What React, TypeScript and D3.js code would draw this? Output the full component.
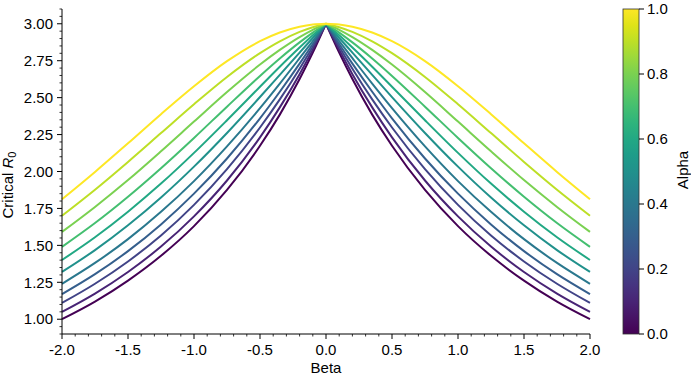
import React from 'react';
import * as d3 from 'd3';

// beta grid (denser near the peak so the alpha=0 cusp stays sharp)
const BETA = [-2, -1.75, -1.5, -1.25, -1, -0.75, -0.5, -0.35, -0.2, -0.1, 0,
  0.1, 0.2, 0.35, 0.5, 0.75, 1, 1.25, 1.5, 1.75, 2];

const ALPHAS = [0, 0.1, 0.2, 0.3, 0.4, 0.5, 0.6, 0.7, 0.8, 0.9, 1.0];

// critical R0, one array per alpha
const R0_A00 = [1.000, 1.119, 1.261, 1.429, 1.630, 1.875, 2.174, 2.385, 2.626, 2.805, 3.000, 2.805, 2.626, 2.385, 2.174, 1.875, 1.630, 1.429, 1.261, 1.119, 1.000];
const R0_A01 = [1.050, 1.174, 1.320, 1.492, 1.696, 1.939, 2.231, 2.434, 2.659, 2.824, 3.000, 2.824, 2.659, 2.434, 2.231, 1.939, 1.696, 1.492, 1.320, 1.174, 1.050];
const R0_A02 = [1.110, 1.240, 1.391, 1.567, 1.774, 2.016, 2.298, 2.488, 2.696, 2.844, 3.000, 2.844, 2.696, 2.488, 2.298, 2.016, 1.774, 1.567, 1.391, 1.240, 1.110];
const R0_A03 = [1.170, 1.305, 1.461, 1.642, 1.850, 2.088, 2.360, 2.540, 2.730, 2.863, 3.000, 2.863, 2.730, 2.540, 2.360, 2.088, 1.850, 1.642, 1.461, 1.305, 1.170];
const R0_A04 = [1.240, 1.381, 1.542, 1.727, 1.935, 2.170, 2.429, 2.595, 2.767, 2.883, 3.000, 2.883, 2.767, 2.595, 2.429, 2.170, 1.935, 1.727, 1.542, 1.381, 1.240];
const R0_A05 = [1.320, 1.468, 1.636, 1.824, 2.033, 2.261, 2.504, 2.654, 2.805, 2.904, 3.000, 2.904, 2.805, 2.654, 2.504, 2.261, 2.033, 1.824, 1.636, 1.468, 1.320];
const R0_A06 = [1.401, 1.555, 1.728, 1.918, 2.126, 2.347, 2.574, 2.709, 2.839, 2.922, 3.000, 2.922, 2.839, 2.709, 2.574, 2.347, 2.126, 1.918, 1.728, 1.555, 1.401];
const R0_A07 = [1.490, 1.651, 1.829, 2.022, 2.227, 2.439, 2.647, 2.765, 2.874, 2.940, 3.000, 2.940, 2.874, 2.765, 2.647, 2.439, 2.227, 2.022, 1.829, 1.651, 1.490];
const R0_A08 = [1.591, 1.760, 1.942, 2.137, 2.338, 2.538, 2.724, 2.823, 2.910, 2.959, 3.000, 2.959, 2.910, 2.823, 2.724, 2.538, 2.338, 2.137, 1.942, 1.760, 1.591];
const R0_A09 = [1.701, 1.877, 2.065, 2.260, 2.455, 2.640, 2.801, 2.881, 2.945, 2.977, 3.000, 2.977, 2.945, 2.881, 2.801, 2.640, 2.455, 2.260, 2.065, 1.877, 1.701];
const R0_A10 = [1.812, 1.997, 2.191, 2.388, 2.577, 2.747, 2.882, 2.941, 2.980, 2.995, 3.000, 2.995, 2.980, 2.941, 2.882, 2.747, 2.577, 2.388, 2.191, 1.997, 1.812];

const SERIES = [R0_A00, R0_A01, R0_A02, R0_A03, R0_A04, R0_A05, R0_A06, R0_A07, R0_A08, R0_A09, R0_A10];

const X_TICKS = [-2, -1.5, -1, -0.5, 0, 0.5, 1, 1.5, 2];
const Y_TICKS = [1.0, 1.25, 1.5, 1.75, 2.0, 2.25, 2.5, 2.75, 3.0];
const CB_TICKS = [0, 0.2, 0.4, 0.6, 0.8, 1.0];

const W = 691;
const H = 375;
const FONT = 'Liberation Sans, Arial, sans-serif';
const FS = 15;

export default function App() {
  const x = d3.scaleLinear().domain([-2, 2]).range([62, 590]);
  const y = d3.scaleLinear().domain([0.9, 3.1]).range([334, 9]);
  const cb = d3.scaleLinear().domain([0, 1]).range([334, 9]);

  const line = d3.line<[number, number]>()
    .x(d => x(d[0]))
    .y(d => y(d[1]))
    .curve(d3.curveMonotoneX);

  // draw left and right halves separately so the peak isn't rounded off
  const pathFor = (vals: number[]) => {
    const pts = BETA.map((b, i) => [b, vals[i]] as [number, number]);
    const mid = BETA.indexOf(0);
    return (line(pts.slice(0, mid + 1)) || '') + (line(pts.slice(mid)) || '');
  };

  const xMinor = d3.range(-20, 21).map(v => v / 10).filter(v => !X_TICKS.includes(v));
  const yMinor = d3.range(18, 63).map(v => v / 20).filter(v => !Y_TICKS.some(t => Math.abs(t - v) < 1e-9));
  const stops = d3.range(0, 1.0001, 0.05);

  return (
    <svg width={W} height={H} style={{ position: 'absolute', left: 0, top: 0, background: '#fff' }}
      fontFamily={FONT}>
      <defs>
        <linearGradient id="viridis" x1="0" y1="1" x2="0" y2="0">
          {stops.map(s => (
            <stop key={s} offset={s} stopColor={d3.interpolateViridis(s)} />
          ))}
        </linearGradient>
      </defs>

      {/* lines */}
      {SERIES.map((vals, i) => (
        <path key={i} d={pathFor(vals)} fill="none"
          stroke={d3.interpolateViridis(ALPHAS[i])} strokeWidth={2} />
      ))}

      {/* y axis */}
      <line x1={62} x2={62} y1={y(3.1)} y2={y(0.9)} stroke="#000" strokeWidth={1} />
      {Y_TICKS.map(t => (
        <g key={t}>
          <line x1={57} x2={62} y1={y(t)} y2={y(t)} stroke="#000" />
          <text x={53} y={y(t)} dy="0.35em" textAnchor="end" fontSize={FS}>{t.toFixed(2)}</text>
        </g>
      ))}
      {yMinor.map(t => (
        <line key={t} x1={59.5} x2={62} y1={y(t)} y2={y(t)} stroke="#000" strokeWidth={0.8} />
      ))}
      <text transform={`translate(13,${185}) rotate(-90)`} textAnchor="middle" fontSize={FS}>
        Critical <tspan fontStyle="italic">R</tspan><tspan fontSize={11} dy={3}>0</tspan>
      </text>

      {/* x axis */}
      <line x1={x(-2)} x2={x(2)} y1={334} y2={334} stroke="#000" strokeWidth={1} />
      {X_TICKS.map(t => (
        <g key={t}>
          <line x1={x(t)} x2={x(t)} y1={334} y2={339} stroke="#000" />
          <text x={x(t)} y={355} textAnchor="middle" fontSize={FS}>{t.toFixed(1)}</text>
        </g>
      ))}
      {xMinor.map(t => (
        <line key={t} x1={x(t)} x2={x(t)} y1={334} y2={336.5} stroke="#000" strokeWidth={0.8} />
      ))}
      <text x={x(0)} y={373} textAnchor="middle" fontSize={FS}>Beta</text>

      {/* colorbar */}
      <rect x={623} y={cb(1)} width={16} height={cb(0) - cb(1)} fill="url(#viridis)"
        stroke="#333" strokeWidth={0.8} />
      {CB_TICKS.map(t => (
        <g key={t}>
          <line x1={639} x2={644} y1={cb(t)} y2={cb(t)} stroke="#000" />
          <text x={647} y={cb(t)} dy="0.35em" fontSize={FS}>{t.toFixed(1)}</text>
        </g>
      ))}
      <text transform={`translate(688,170) rotate(-90)`} textAnchor="middle" fontSize={FS}>Alpha</text>
    </svg>
  );
}
